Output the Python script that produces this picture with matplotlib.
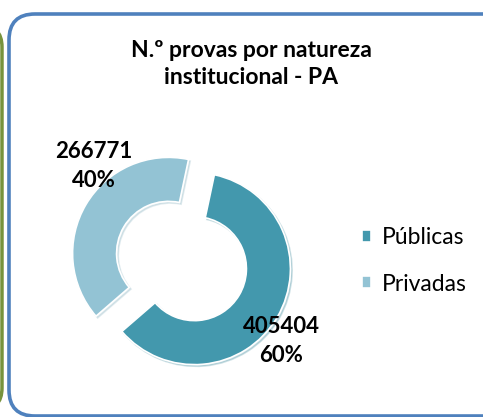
import matplotlib.pyplot as plt
from matplotlib.patches import FancyBboxPatch

# data
categories = ['Públicas', 'Privadas']
values = [405404, 266771]
percents = ['60%', '40%']
colors = ['#4398AD', '#93C3D4']
title = 'N.º provas por natureza\ninstitucional - PA'

W, H = 483, 417
fig = plt.figure(figsize=(W / 100, H / 100), dpi=100)
ax = fig.add_axes([0, 0, 1, 1])

# frames (pixel coords, y up)
green = FancyBboxPatch((-60, H - 410), 62, 385, boxstyle='round,pad=0,rounding_size=22',
                       fc='none', ec='#77933C', lw=2.5, zorder=0)
blue = FancyBboxPatch((9, H - 416), 500, 402, boxstyle='round,pad=0,rounding_size=26',
                      fc='white', ec='#4F81BD', lw=2.6, zorder=0)
ax.add_patch(green)
ax.add_patch(blue)

wedges, _ = ax.pie(values, colors=colors, startangle=78, counterclock=False,
                   center=(181.5, H - 261), radius=96, explode=[15, 15],
                   wedgeprops=dict(width=44, edgecolor='white', linewidth=1.2),
                   shadow=dict(ox=1.2, oy=-1.2, shade=0.1, alpha=0.25),
                   frame=True)

ax.set_xlim(0, W)
ax.set_ylim(0, H)
ax.axis('off')

font = 'Lato'
ax.text(251, H - 64, title, ha='center', va='center', fontsize=16.5,
        fontweight='bold', family=font, linespacing=1.3)

ax.text(94, H - 166, f'{values[1]}\n{percents[1]}', ha='center', va='center',
        fontsize=16, fontweight='bold', family=font, linespacing=1.45)
ax.text(281, H - 341, f'{values[0]}\n{percents[0]}', ha='center', va='center',
        fontsize=16, fontweight='bold', family=font, linespacing=1.45)

leg = ax.legend(wedges, categories, loc='center left',
                bbox_to_anchor=(341 / W, 1 - 261 / H), frameon=False,
                prop=dict(family=font, size=16.5), handlelength=0.42,
                handleheight=0.42, handletextpad=0.45, labelspacing=1.1)

fig.savefig('out.png', dpi=100)
